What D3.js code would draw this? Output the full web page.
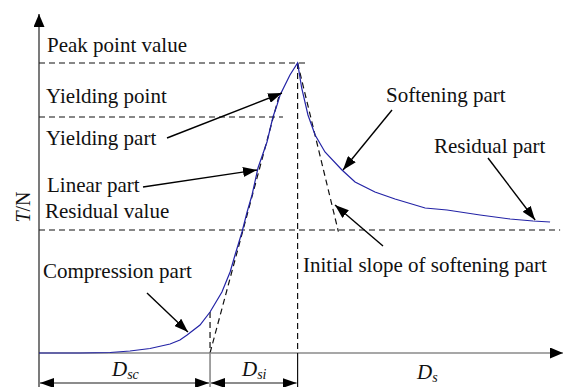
<!DOCTYPE html>
<html lang="en">
<head>
  <meta charset="UTF-8">
  <title>Tension-displacement curve stages</title>
  <script src="https://d3js.org/d3.v7.min.js"></script>
  <style>
    body { margin: 0; background: #fff; }
    svg text { font-family: 'Liberation Serif', 'Times New Roman', serif; fill: #111; }
    .label { font-size: 21px; }
    .dash { stroke: #111; stroke-width: 1.2; stroke-dasharray: 6,4; fill: none; }
  </style>
</head>
<body>
<div id="chart"></div>
<script>
  // measured curve: displacement (arbitrary units) and tension T (N)
  const dispX = [0, 2.41, 4.18, 5.35, 6.53, 7.71, 8.29, 8.71, 9.47, 10.06, 10.76, 11.24, 11.53, 11.94, 12.24,
    12.53, 12.88, 13.41, 13.76, 14.0, 14.18, 14.76, 15.21, 15.45, 15.82, 16.24, 16.82, 17.82, 18.59, 19.76,
    20.94, 22.71, 24.0, 25.94, 27.71, 29.06, 30.06];
  const tension = [0, 0, 5, 20, 45, 90, 130, 180, 280, 410, 610, 810, 980, 1210, 1410,
    1580, 1850, 2110, 2360, 2480, 2580, 2780, 2900, 2650, 2380, 2180, 2010, 1830, 1710, 1610,
    1540, 1450, 1430, 1380, 1340, 1320, 1310];

  const peakX = 15.21, peakT = 2900;
  const yieldT = 2360, residualT = 1230;
  const dscEnd = 10.06;
  const linearEnd = [14.1, 2560];
  const softSlopeEnd = [17.61, 1213];

  const labels = ['Peak point value', 'Yielding point', 'Yielding part', 'Linear part', 'Residual value',
    'Compression part', 'Softening part', 'Residual part', 'Initial slope of softening part'];

  const W = 564, H = 387;
  const x = d3.scaleLinear().domain([0, 30.82]).range([39, 563]);
  const y = d3.scaleLinear().domain([0, 3390]).range([353, 14]);

  const svg = d3.select('#chart').append('svg')
    .attr('width', W).attr('height', H);

  const defs = svg.append('defs');
  function marker(id, len, half) {
    defs.append('marker')
      .attr('id', id)
      .attr('viewBox', `0 ${-half} ${len} ${2 * half}`)
      .attr('refX', len).attr('refY', 0)
      .attr('markerUnits', 'userSpaceOnUse')
      .attr('markerWidth', len).attr('markerHeight', 2 * half)
      .attr('orient', 'auto-start-reverse')
      .append('path')
      .attr('d', `M0,${-half}L${len},0L0,${half}Z`)
      .attr('fill', '#000');
  }
  marker('head', 14, 5);
  marker('axhead', 13, 5.5);

  // guide lines
  const guides = svg.append('g');
  guides.append('line').attr('class', 'dash')
    .attr('x1', x(0)).attr('x2', x(15.65)).attr('y1', y(peakT)).attr('y2', y(peakT));
  guides.append('line').attr('class', 'dash')
    .attr('x1', x(0)).attr('x2', x(14.35)).attr('y1', y(yieldT)).attr('y2', y(yieldT));
  guides.append('line').attr('class', 'dash')
    .attr('x1', x(0)).attr('x2', x(30.65)).attr('y1', y(residualT)).attr('y2', y(residualT));
  guides.append('line').attr('class', 'dash')
    .attr('x1', x(peakX)).attr('x2', x(peakX)).attr('y1', y(peakT)).attr('y2', y(0));
  guides.append('line').attr('class', 'dash')
    .attr('x1', x(dscEnd)).attr('x2', x(dscEnd)).attr('y1', y(410)).attr('y2', y(0));
  guides.append('line').attr('class', 'dash')
    .attr('x1', x(dscEnd)).attr('x2', x(linearEnd[0])).attr('y1', y(0)).attr('y2', y(linearEnd[1]));
  guides.append('line').attr('class', 'dash')
    .attr('x1', x(peakX)).attr('x2', x(softSlopeEnd[0])).attr('y1', y(peakT)).attr('y2', y(softSlopeEnd[1]));

  // axes
  svg.append('line')
    .attr('x1', x(0)).attr('x2', x(30.82)).attr('y1', y(0)).attr('y2', y(0))
    .attr('stroke', '#8a8a8a').attr('stroke-width', 1.6)
    .attr('marker-end', 'url(#axhead)');
  svg.append('line')
    .attr('x1', x(0)).attr('x2', x(0)).attr('y1', H).attr('y2', y(3390))
    .attr('stroke', '#222').attr('stroke-width', 1.2)
    .attr('marker-end', 'url(#axhead)');

  // curve
  const pts = dispX.map((d, i) => [d, tension[i]]);
  svg.append('path')
    .datum(pts)
    .attr('fill', 'none')
    .attr('stroke', '#2323a6')
    .attr('stroke-width', 1.2)
    .attr('d', d3.line().x(d => x(d[0])).y(d => y(d[1])));

  // dimension lines
  const dimY = 383;
  svg.append('line').attr('x1', x(dscEnd)).attr('x2', x(dscEnd)).attr('y1', y(0)).attr('y2', H)
    .attr('stroke', '#8a8a8a').attr('stroke-width', 1.6);
  svg.append('line').attr('x1', x(peakX)).attr('x2', x(peakX)).attr('y1', y(0)).attr('y2', H)
    .attr('stroke', '#111').attr('stroke-width', 1.2);
  [[0, dscEnd], [dscEnd, peakX]].forEach(([a, b]) => {
    svg.append('line')
      .attr('x1', x(a) + 1).attr('x2', x(b) - 1).attr('y1', dimY).attr('y2', dimY)
      .attr('stroke', '#666').attr('stroke-width', 1.6)
      .attr('marker-start', 'url(#head)').attr('marker-end', 'url(#head)');
  });

  function dLabel(px, base, sub) {
    const t = svg.append('text').attr('x', px).attr('y', base).attr('font-size', 21);
    t.append('tspan').attr('font-style', 'italic').text('D');
    t.append('tspan').attr('font-style', 'italic').attr('font-size', 14).attr('dy', 3).text(sub);
  }
  dLabel(112, 376, 'sc');
  dLabel(242, 376, 'si');
  dLabel(417, 379, 's');

  // y title
  const yt = svg.append('text')
    .attr('transform', 'translate(30,207) rotate(-90)')
    .attr('text-anchor', 'middle').attr('font-size', 20);
  yt.append('tspan').attr('font-style', 'italic').text('T');
  yt.append('tspan').text('/N');

  // annotation text
  const textPos = [[47, 52], [46, 103], [46, 145], [47, 192], [45, 218], [43, 278], [386, 102], [434, 153], [303, 272]];
  svg.selectAll('.label').data(labels).enter().append('text')
    .attr('class', 'label')
    .attr('x', (d, i) => textPos[i][0])
    .attr('y', (d, i) => textPos[i][1])
    .text(d => d);

  // annotation arrows: tail in px, tip on the curve in data units
  const arrows = [
    [[167, 138], [14.29, 2600]],
    [[143, 187], [12.82, 1830]],
    [[147, 293], [8.76, 210]],
    [[392, 110], [17.88, 1830]],
    [[488, 158], [29.18, 1330]],
    [[383, 246], [17.41, 1480]]
  ];
  svg.selectAll('.ann').data(arrows).enter().append('line')
    .attr('class', 'ann')
    .attr('x1', d => d[0][0]).attr('y1', d => d[0][1])
    .attr('x2', d => x(d[1][0])).attr('y2', d => y(d[1][1]))
    .attr('stroke', '#000').attr('stroke-width', 1.4)
    .attr('marker-end', 'url(#head)');
</script>
</body>
</html>
